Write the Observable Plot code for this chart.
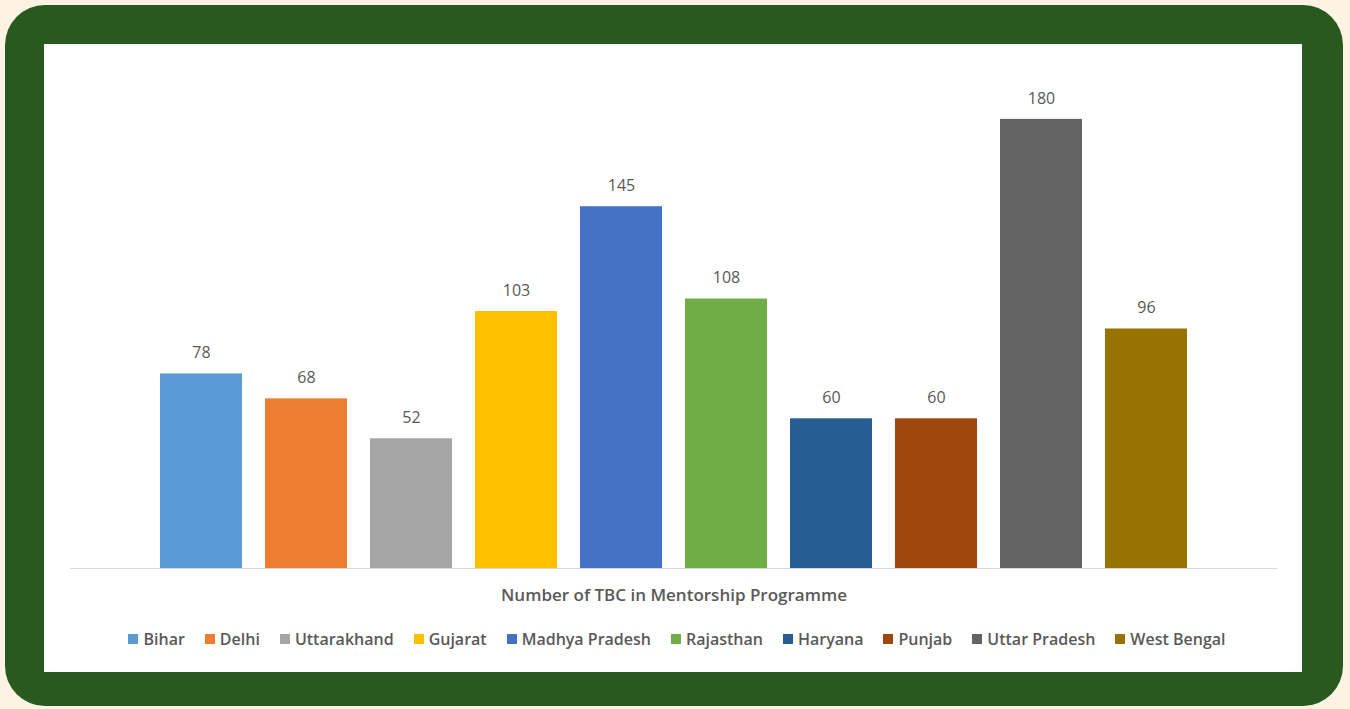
<!DOCTYPE html>
<html>
<head>
<meta charset="utf-8">
<script src="https://cdn.jsdelivr.net/npm/d3@7"></script>
<script src="https://cdn.jsdelivr.net/npm/@observablehq/plot@0.6"></script>
<style>
  html, body { margin: 0; padding: 0; }
  body { width: 1350px; height: 709px; background: #fdf3e4; position: relative; overflow: hidden; font-family: "Open Sans", "Noto Sans", sans-serif; }
  #frame { position: absolute; left: 5px; top: 5px; width: 1338px; height: 701px; background: #285a1f; border-radius: 40px; }
  #panel { position: absolute; left: 44px; top: 44px; width: 1258px; height: 628px; background: #ffffff; }
  #chart { position: absolute; left: 0; top: 0; }
  #xlabel { position: absolute; left: 0; width: 1348px; top: 583px; text-align: center; font-size: 17px; font-weight: 600; color: #595959; }
  #legend { position: absolute; left: 0; width: 1354px; top: 628px; display: flex; justify-content: center; gap: 20px; font-size: 16px; font-weight: 600; color: #595959; }
  .item { display: flex; align-items: center; gap: 5px; white-space: nowrap; }
  .sw { width: 10px; height: 10px; display: inline-block; }
</style>
</head>
<body>
<div id="frame"></div>
<div id="panel"></div>
<div id="chart"></div>
<div id="xlabel">Number of TBC in Mentorship Programme</div>
<div id="legend"></div>
<script>
const states = ["Bihar", "Delhi", "Uttarakhand", "Gujarat", "Madhya Pradesh", "Rajasthan", "Haryana", "Punjab", "Uttar Pradesh", "West Bengal"];
const values = [78, 68, 52, 103, 145, 108, 60, 60, 180, 96];
const colors = ["#5b9bd5", "#ed7d31", "#a5a5a5", "#ffc000", "#4472c4", "#70ad47", "#255e91", "#9e480e", "#636363", "#997300"];

const data = states.map((s, i) => ({state: s, value: values[i]}));

const chart = Plot.plot({
  width: 1350,
  height: 590,
  marginLeft: 70,
  marginRight: 73,
  marginTop: 69,
  marginBottom: 22,
  style: {background: "transparent", fontFamily: "'Open Sans', 'Noto Sans', sans-serif"},
  x: {domain: states, paddingInner: 0.22, paddingOuter: 0.857, axis: null},
  y: {domain: [0, 200], axis: null},
  color: {domain: states, range: colors},
  marks: [
    Plot.barY(data, {x: "state", y: "value", fill: "state"}),
    Plot.ruleY([0], {stroke: "#d9d9d9", strokeWidth: 1.2}),
    Plot.text(data, {x: "state", y: "value", text: d => String(d.value), dy: -21, fill: "#595959", fontSize: 16})
  ]
});
document.getElementById("chart").appendChild(chart);

const legend = document.getElementById("legend");
states.forEach((s, i) => {
  const item = document.createElement("div");
  item.className = "item";
  const sw = document.createElement("span");
  sw.className = "sw";
  sw.style.background = colors[i];
  const t = document.createElement("span");
  t.textContent = s;
  item.appendChild(sw);
  item.appendChild(t);
  legend.appendChild(item);
});
</script>
</body>
</html>
